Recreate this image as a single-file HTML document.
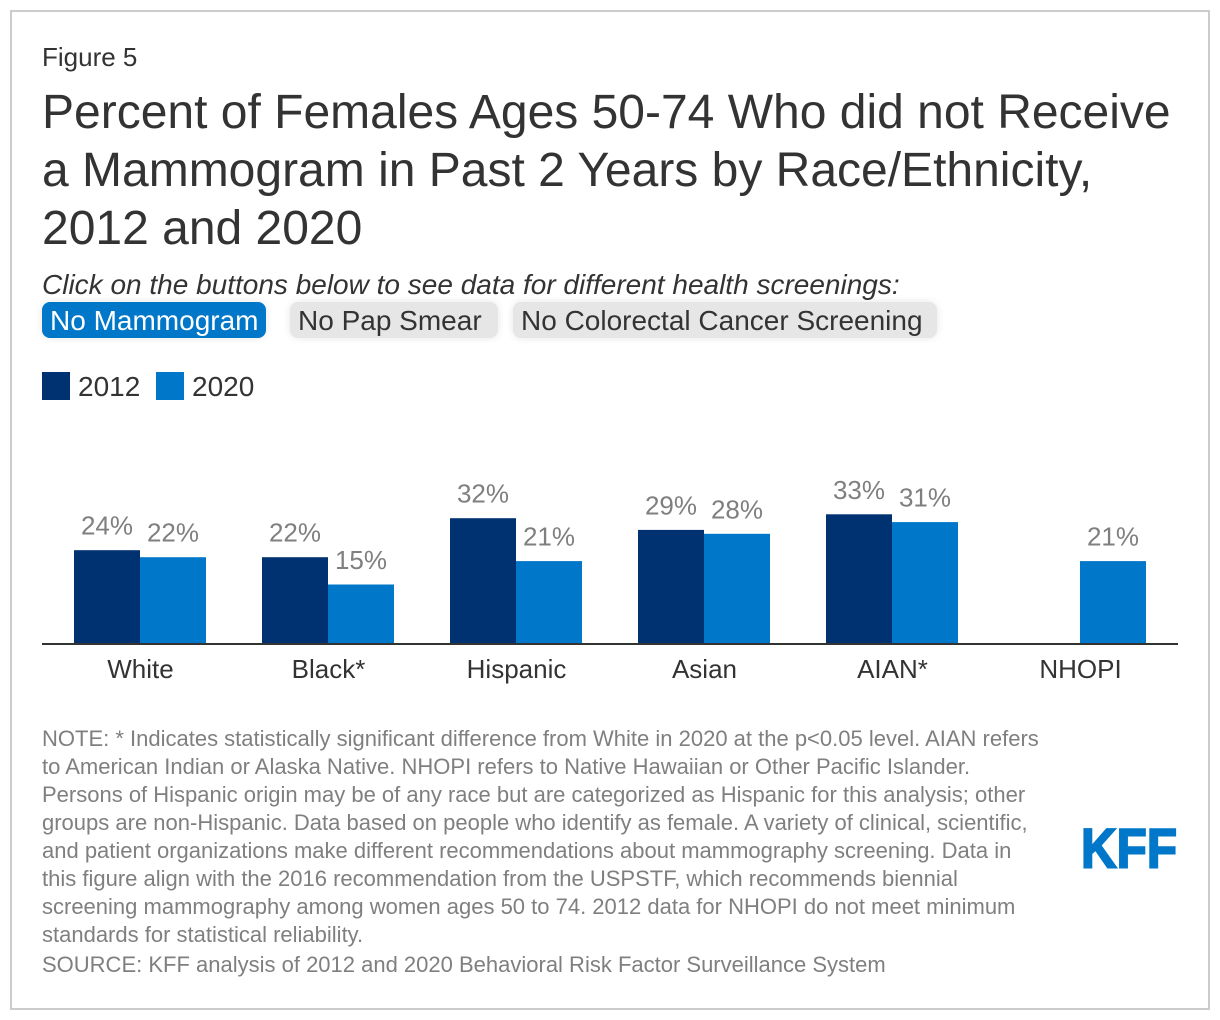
<!DOCTYPE html>
<html lang="en">
<head>
<meta charset="utf-8">
<title>Percent of Females Ages 50-74 Who did not Receive a Mammogram</title>
<style>
html,body{margin:0;padding:0;background:#fff}
body{width:1220px;height:1020px;position:relative;overflow:hidden;font-family:"Liberation Sans",Arial,sans-serif;color:#333}
#frame{position:absolute;left:10px;top:10px;width:1196px;height:996px;border:2px solid #ccc;background:#fff}
.t{position:absolute;left:42px;white-space:nowrap}
#figure-num{top:42px;font-size:26px;line-height:30px}
.title{font-size:48px;line-height:58px;color:#333}
#sub{top:269px;font-size:28px;line-height:32px;font-style:italic}
.btn{position:absolute;top:302px;height:36px;box-sizing:border-box;padding-left:8px;border-radius:8px;font-size:28px;line-height:37px;text-align:left;white-space:nowrap;background:#e6e6e6;color:#333;box-shadow:0 0 8px rgba(0,0,0,.1)}
.btn.on{background:#0077c8;color:#fff}
.note{font-size:22px;line-height:28px;color:#7f7f7f}
svg{position:absolute;left:0;top:0}
</style>
</head>
<body>
<div id="frame"></div>
<div class="t" id="figure-num">Figure 5</div>
<div class="t title" style="top:84px">Percent of Females Ages 50-74 Who did not Receive</div>
<div class="t title" style="top:142px">a Mammogram in Past 2 Years by Race/Ethnicity,</div>
<div class="t title" style="top:200px">2012 and 2020</div>
<div class="t" id="sub">Click on the buttons below to see data for different health screenings:</div>
<div class="btn on" style="left:42px;width:224px">No Mammogram</div>
<div class="btn" style="left:290px;width:208px">No Pap Smear</div>
<div class="btn" style="left:513px;width:424px">No Colorectal Cancer Screening</div>

<svg id="chart" width="1220" height="1020"></svg>

<div>
<div class="t note" style="top:725px">NOTE: * Indicates statistically significant difference from White in 2020 at the p&lt;0.05 level. AIAN refers</div>
<div class="t note" style="top:753px">to American Indian or Alaska Native. NHOPI refers to Native Hawaiian or Other Pacific Islander.</div>
<div class="t note" style="top:781px">Persons of Hispanic origin may be of any race but are categorized as Hispanic for this analysis; other</div>
<div class="t note" style="top:809px">groups are non-Hispanic. Data based on people who identify as female. A variety of clinical, scientific,</div>
<div class="t note" style="top:837px">and patient organizations make different recommendations about mammography screening. Data in</div>
<div class="t note" style="top:865px">this figure align with the 2016 recommendation from the USPSTF, which recommends biennial</div>
<div class="t note" style="top:893px">screening mammography among women ages 50 to 74. 2012 data for NHOPI do not meet minimum</div>
<div class="t note" style="top:921px">standards for statistical reliability.</div>
<div class="t note" style="top:951px">SOURCE: KFF analysis of 2012 and 2020 Behavioral Risk Factor Surveillance System</div>
</div>

<svg width="1220" height="1020" style="pointer-events:none">
<text x="1081" y="867.5" font-family="'Liberation Sans',sans-serif" font-weight="700" font-size="56" fill="#0077c8" stroke="#0077c8" stroke-width="2" textLength="96" lengthAdjust="spacingAndGlyphs">KFF</text>
</svg>

<script>
const categories = ['White', 'Black*', 'Hispanic', 'Asian', 'AIAN*', 'NHOPI'];
const seriesNames = ['2012', '2020'];
const values2012 = [23.8, 22, 32, 29, 33, null];
const values2020 = [22, 15, 21, 28, 31, 21];
const seriesColors = ['#003170', '#0077c8'];

const svgNS = 'http://www.w3.org/2000/svg';
const chart = document.getElementById('chart');
const baselineY = 643;
const pxPerPercent = 3.9;
const firstGroupCenter = 140;
const groupStep = 188;
const barWidth = 66;

function yScale(v) { return baselineY - v * pxPerPercent; }
function groupCenter(i) { return firstGroupCenter + i * groupStep; }

function makeText(x, y, str, size, fill, anchor) {
  const t = document.createElementNS(svgNS, 'text');
  t.setAttribute('x', x);
  t.setAttribute('y', y);
  t.setAttribute('font-size', size);
  t.setAttribute('fill', fill);
  t.setAttribute('text-anchor', anchor);
  t.setAttribute('font-family', '"Liberation Sans", Arial, sans-serif');
  t.textContent = str;
  chart.appendChild(t);
  return t;
}

[values2012, values2020].forEach(function (vals, s) {
  vals.forEach(function (v, i) {
    if (v === null) return;
    const x = groupCenter(i) + (s === 0 ? -barWidth : 0);
    const r = document.createElementNS(svgNS, 'rect');
    r.setAttribute('x', x);
    r.setAttribute('y', yScale(v));
    r.setAttribute('width', barWidth);
    r.setAttribute('height', baselineY - yScale(v));
    r.setAttribute('fill', seriesColors[s]);
    
    
    chart.appendChild(r);
    const label = makeText(x + barWidth / 2, yScale(v) - 15.5, Math.round(v) + '%', 26, '#7f7f7f', 'middle');
    
    
  });
});

const axis = document.createElementNS(svgNS, 'rect');
axis.setAttribute('x', 42);
axis.setAttribute('y', baselineY);
axis.setAttribute('width', 1136);
axis.setAttribute('height', 2);
axis.setAttribute('fill', '#333');


chart.appendChild(axis);

categories.forEach(function (c, i) {
  const tick = makeText(groupCenter(i) + 0.5, 678, c, 26, '#333', 'middle');
  
  
});

seriesNames.forEach(function (n, s) {
  const x = 42 + s * 114;
  const swatch = document.createElementNS(svgNS, 'rect');
  swatch.setAttribute('x', x);
  swatch.setAttribute('y', 372);
  swatch.setAttribute('width', 28);
  swatch.setAttribute('height', 28);
  swatch.setAttribute('fill', seriesColors[s]);
  
  
  chart.appendChild(swatch);
  const lt = makeText(x + 36, 396, n, 28, '#333', 'start');
  
  
});
</script>
</body>
</html>
